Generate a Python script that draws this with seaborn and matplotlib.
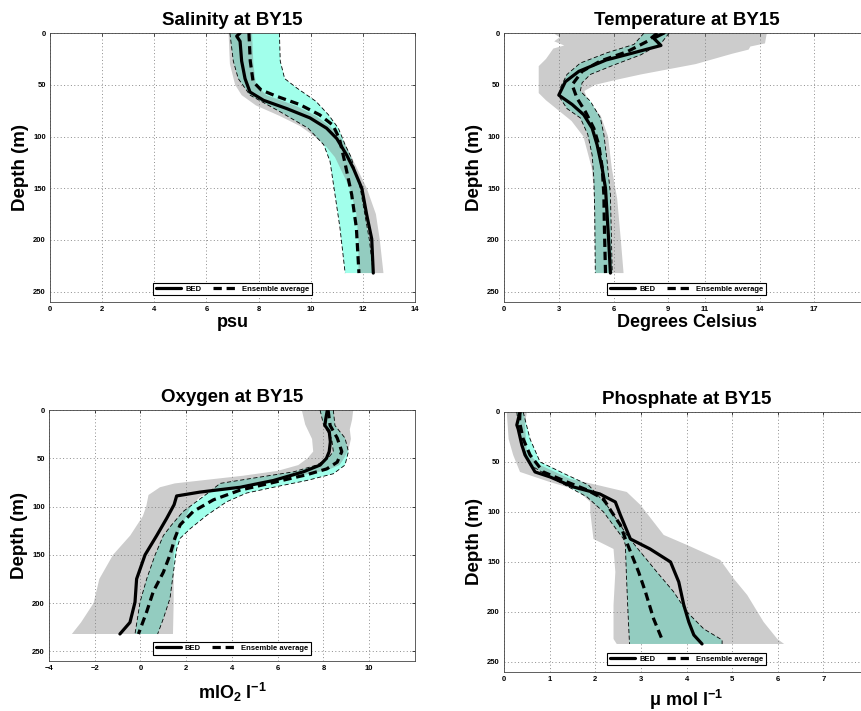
import numpy as np
import matplotlib
matplotlib.use("Agg")
import matplotlib.pyplot as plt
import seaborn as sns

# ---- values ----
# Salinity (psu)
sal_bed_d = [0, 3, 8, 27, 44, 57, 65, 73, 82, 92, 102, 118, 131, 150, 176, 199, 232]
sal_bed = [7.29, 7.16, 7.29, 7.35, 7.48, 7.67, 8.19, 9.08, 9.97, 10.61, 11.0, 11.38, 11.64, 11.96, 12.15, 12.34, 12.4]
sal_ens_d = [0, 27, 47, 55, 61, 69, 79, 89, 102, 124, 156, 188, 232]
sal_ens = [7.63, 7.68, 7.79, 8.1, 8.68, 9.57, 10.34, 10.85, 11.1, 11.3, 11.57, 11.75, 11.85]
sal_ens_lo_d = [0, 27, 44, 60, 76, 92, 108, 124, 156, 188, 232]
sal_ens_lo = [6.9, 7.03, 7.22, 7.67, 8.82, 9.9, 10.5, 10.74, 10.93, 11.12, 11.32]
sal_ens_hi_d = [0, 27, 44, 53, 66, 79, 92, 108, 120, 150, 200, 232]
sal_ens_hi = [8.8, 8.83, 9.0, 9.46, 10.2, 10.68, 11.06, 11.32, 11.55, 11.9, 12.25, 12.4]
sal_bed_lo_d = [0, 30, 50, 60, 70, 80, 90, 100, 110, 120, 150, 175, 200, 232]
sal_bed_lo = [6.85, 6.9, 7.1, 7.35, 7.9, 8.8, 9.6, 10.15, 10.6, 10.93, 11.5, 11.75, 11.83, 11.83]
sal_bed_hi_d = [0, 30, 50, 60, 70, 80, 90, 100, 110, 120, 150, 175, 200, 232]
sal_bed_hi = [7.75, 7.8, 7.9, 8.3, 9.4, 10.2, 10.74, 11.12, 11.38, 11.57, 12.15, 12.5, 12.65, 12.79]

# Temperature (degrees Celsius)
tmp_bed_d = [0, 5, 12, 20, 26, 37, 47, 60, 69, 79, 92, 108, 131, 150, 176, 202, 232]
tmp_bed = [8.77, 8.2, 8.6, 6.9, 5.6, 4.1, 3.36, 3.0, 3.73, 4.37, 4.83, 5.1, 5.38, 5.56, 5.65, 5.74, 5.83]
tmp_ens_d = [0, 8, 18, 27, 37, 50, 63, 76, 92, 108, 130, 156, 188, 232]
tmp_ens = [8.4, 7.85, 6.75, 5.28, 4.28, 3.73, 4.0, 4.46, 4.92, 5.19, 5.38, 5.47, 5.5, 5.56]
tmp_ens_lo_d = [0, 11, 19, 29, 40, 53, 63, 73, 82, 98, 118, 140, 172, 232]
tmp_ens_lo = [7.67, 7.12, 5.65, 4.18, 3.45, 3.08, 3.08, 3.45, 4.18, 4.59, 4.83, 4.92, 4.97, 5.0]
tmp_ens_hi_d = [0, 10, 21, 31, 40, 48, 56, 66, 82, 98, 124, 156, 232]
tmp_ens_hi = [9.05, 8.6, 7.5, 6.0, 4.73, 4.28, 4.18, 4.73, 5.28, 5.47, 5.65, 5.83, 5.93]
tmp_bed_lo_d = [0, 4, 8, 12, 15, 25, 32, 58, 65, 75, 85, 100, 130, 150, 232]
tmp_bed_lo = [2.7, 3.05, 2.75, 3.3, 2.7, 2.3, 1.9, 1.9, 2.3, 3.0, 3.7, 4.35, 4.8, 4.92, 5.0]
tmp_bed_hi_d = [0, 10, 13, 16, 20, 25, 30, 35, 40, 45, 50, 56, 65, 80, 100, 130, 160, 200, 232]
tmp_bed_hi = [14.4, 14.3, 13.5, 13.4, 12.5, 11.5, 10.5, 9.0, 7.5, 6.2, 5.0, 4.4, 4.6, 5.3, 5.7, 5.9, 6.2, 6.4, 6.55]

# Oxygen (ml O2 / l)
oxy_bed_d = [0, 9, 16, 22, 33, 43, 50, 57, 64, 73, 80, 85, 89, 98, 112, 130, 150, 175, 199, 220, 232]
oxy_bed = [8.17, 8.1, 8.06, 8.25, 8.3, 8.25, 8.13, 7.85, 7.12, 5.81, 4.35, 2.6, 1.58, 1.47, 1.15, 0.71, 0.2, -0.17, -0.24, -0.46, -0.9]
oxy_ens_d = [0, 16, 29, 43, 54, 61, 67, 75, 83, 93, 105, 119, 133, 150, 168, 188, 209, 232]
oxy_ens = [8.2, 8.29, 8.6, 8.8, 8.6, 8.14, 7.27, 5.81, 4.35, 3.19, 2.31, 1.73, 1.5, 1.29, 1.0, 0.56, 0.27, -0.09]
oxy_ens_lo_d = [0, 15, 30, 43, 50, 57, 64, 70, 76, 86, 93, 105, 119, 130, 150, 175, 199, 232]
oxy_ens_lo = [7.85, 8.0, 8.36, 8.43, 8.2, 7.7, 6.7, 5.08, 3.48, 2.95, 2.55, 1.87, 1.36, 1.0, 0.64, 0.27, -0.02, -0.24]
oxy_ens_hi_d = [0, 16, 29, 43, 57, 66, 73, 80, 86, 95, 109, 123, 133, 144, 168, 195, 216, 232]
oxy_ens_hi = [8.43, 8.5, 8.94, 9.09, 8.94, 8.43, 7.27, 5.81, 4.64, 3.77, 2.9, 2.17, 1.73, 1.58, 1.44, 1.29, 1.0, 0.75]
oxy_bed_lo_d = [0, 15, 30, 43, 50, 57, 63, 68, 72, 76, 80, 88, 100, 110, 130, 150, 175, 200, 220, 232]
oxy_bed_lo = [7.05, 7.2, 7.5, 7.55, 7.3, 6.9, 6.0, 4.5, 3.0, 1.5, 0.85, 0.35, 0.25, 0.1, -0.45, -1.2, -1.8, -2.05, -2.6, -3.0]
oxy_bed_hi_d = [0, 10, 20, 30, 40, 50, 57, 62, 67, 72, 77, 83, 90, 100, 115, 130, 150, 200, 232]
oxy_bed_hi = [9.3, 9.25, 9.15, 9.2, 9.1, 8.9, 8.7, 8.2, 7.2, 6.0, 4.6, 3.3, 2.6, 2.2, 1.9, 1.6, 1.45, 1.45, 1.42]

# Phosphate (umol / l)
pho_bed_d = [0, 13, 17, 33, 43, 60, 65, 75, 82, 90, 103, 127, 137, 150, 170, 193, 210, 223, 232]
pho_bed = [0.35, 0.28, 0.31, 0.39, 0.46, 0.68, 1.01, 1.52, 2.1, 2.44, 2.55, 2.77, 3.2, 3.65, 3.83, 3.94, 4.05, 4.16, 4.34]
pho_ens_d = [0, 10, 27, 43, 60, 70, 78, 87, 100, 113, 127, 143, 160, 180, 207, 227]
pho_ens = [0.35, 0.34, 0.42, 0.57, 0.86, 1.38, 1.82, 2.18, 2.36, 2.55, 2.66, 2.8, 2.95, 3.1, 3.28, 3.46]
pho_ens_lo_d = [0, 27, 53, 65, 85, 100, 127, 133, 160, 193, 232]
pho_ens_lo = [0.28, 0.35, 0.57, 1.01, 1.82, 2.18, 2.62, 2.66, 2.68, 2.71, 2.75]
pho_ens_hi_d = [0, 27, 50, 63, 73, 93, 113, 123, 140, 160, 180, 200, 217, 228, 232]
pho_ens_hi = [0.42, 0.57, 0.79, 1.38, 1.85, 2.25, 2.55, 2.69, 2.99, 3.35, 3.72, 4.01, 4.38, 4.78, 4.78]
pho_bed_lo_d = [0, 27, 43, 60, 70, 78, 90, 100, 127, 137, 160, 193, 227, 232]
pho_bed_lo = [0.06, 0.1, 0.2, 0.35, 1.0, 1.6, 1.89, 1.89, 1.96, 2.4, 2.44, 2.4, 2.4, 2.47]
pho_bed_hi_d = [0, 13, 40, 53, 67, 73, 80, 93, 123, 133, 148, 167, 183, 210, 227, 232]
pho_bed_hi = [0.5, 0.46, 0.5, 0.79, 1.45, 2.04, 2.69, 2.99, 3.5, 4.01, 4.74, 5.04, 5.33, 5.69, 5.99, 6.14]

depth_ticks = [0, 50, 100, 150, 200, 250]

sns.set_style("white")
plt.rcParams['font.family'] = ['Liberation Sans', 'DejaVu Sans']
plt.rcParams['font.weight'] = 'bold'
plt.rcParams['text.color'] = 'black'
plt.rcParams['axes.labelcolor'] = 'black'
plt.rcParams['xtick.color'] = 'black'
plt.rcParams['ytick.color'] = 'black'
plt.rcParams['mathtext.fontset'] = 'custom'
plt.rcParams['mathtext.rm'] = 'Liberation Sans:bold'
plt.rcParams['mathtext.bf'] = 'Liberation Sans:bold'
plt.rcParams['mathtext.default'] = 'bf'

CYAN = '#a1ffeb'
GREY = (0.5, 0.5, 0.5)


def band(ax, lo_d, lo, hi_d, hi, **kw):
    xs = np.r_[lo, hi[::-1]]
    ys = np.r_[lo_d, hi_d[::-1]]
    ax.fill(xs, ys, lw=0, **kw)


def panel(ax, title, xlabel, bed, ens, ens_lo, ens_hi, bed_lo, bed_hi,
          xlim, xticks, xlabelpad):
    band(ax, *ens_lo, *ens_hi, color=CYAN, zorder=1)
    band(ax, *bed_lo, *bed_hi, color=GREY, alpha=0.4, zorder=2)
    for d, v in (ens_lo, ens_hi):
        sns.lineplot(x=v, y=d, orient='y', estimator=None, color='k', lw=0.6,
                     linestyle=(0, (5, 3)), ax=ax, zorder=3)
    sns.lineplot(x=bed[1], y=bed[0], orient='y', estimator=None, color='k',
                 lw=2.3, label='BED', ax=ax, zorder=4)
    sns.lineplot(x=ens[1], y=ens[0], orient='y', estimator=None, color='k',
                 lw=2.3, linestyle=(0, (2.6, 1.5)), label='Ensemble average',
                 ax=ax, zorder=4)

    ax.set_xlim(*xlim)
    ax.set_ylim(260, 0)
    ax.set_xticks(xticks)
    ax.set_yticks(depth_ticks)
    ax.set_axisbelow(True)
    ax.grid(True, color='#8c8c8c', linestyle=(0, (1, 2.5)), lw=0.7)
    ax.tick_params(direction='in', length=2.5, width=0.5, labelsize=5.5,
                   pad=3, top=True, right=True)
    for s in ax.spines.values():
        s.set_color('#444444')
        s.set_linewidth(0.6)
    ax.set_title(title, fontsize=13.5, fontweight='bold', pad=6)
    ax.set_ylabel('Depth (m)', fontsize=13.5, fontweight='bold', labelpad=3)
    ax.set_xlabel(xlabel, fontsize=13, fontweight='bold', labelpad=xlabelpad)

    handles, labels = ax.get_legend_handles_labels()
    leg = ax.legend(handles, labels, ncol=2, loc='lower center',
                    bbox_to_anchor=(0.5, 0.025), borderaxespad=0,
                    fontsize=5.5, frameon=True, fancybox=False,
                    edgecolor='k', framealpha=1, handlelength=3.3,
                    handletextpad=0.5, columnspacing=1.5, borderpad=0.35)
    leg.get_frame().set_linewidth(0.8)


fig = plt.figure(figsize=(8.61, 7.11), dpi=100)
ax_sal = fig.add_axes([0.0581, 0.5752, 0.4239, 0.3783])
ax_tmp = fig.add_axes([0.5854, 0.5752, 0.4239, 0.3783])
ax_oxy = fig.add_axes([0.0569, 0.0703, 0.4251, 0.3530])
ax_pho = fig.add_axes([0.5854, 0.0549, 0.4239, 0.3657])

panel(ax_sal, 'Salinity at BY15', 'psu',
      (sal_bed_d, sal_bed), (sal_ens_d, sal_ens),
      (sal_ens_lo_d, sal_ens_lo), (sal_ens_hi_d, sal_ens_hi),
      (sal_bed_lo_d, sal_bed_lo), (sal_bed_hi_d, sal_bed_hi),
      (0, 14), [0, 2, 4, 6, 8, 10, 12, 14], 0.5)
panel(ax_tmp, 'Temperature at BY15', 'Degrees Celsius',
      (tmp_bed_d, tmp_bed), (tmp_ens_d, tmp_ens),
      (tmp_ens_lo_d, tmp_ens_lo), (tmp_ens_hi_d, tmp_ens_hi),
      (tmp_bed_lo_d, tmp_bed_lo), (tmp_bed_hi_d, tmp_bed_hi),
      (0, 20), [0, 3, 6, 9, 11, 14, 17], 0.5)
panel(ax_oxy, 'Oxygen at BY15', 'mlO$_2$ l$^{-1}$',
      (oxy_bed_d, oxy_bed), (oxy_ens_d, oxy_ens),
      (oxy_ens_lo_d, oxy_ens_lo), (oxy_ens_hi_d, oxy_ens_hi),
      (oxy_bed_lo_d, oxy_bed_lo), (oxy_bed_hi_d, oxy_bed_hi),
      (-4, 12), [-4, -2, 0, 2, 4, 6, 8, 10], 6)
panel(ax_pho, 'Phosphate at BY15', '\u03bc mol l$^{-1}$',
      (pho_bed_d, pho_bed), (pho_ens_d, pho_ens),
      (pho_ens_lo_d, pho_ens_lo), (pho_ens_hi_d, pho_ens_hi),
      (pho_bed_lo_d, pho_bed_lo), (pho_bed_hi_d, pho_bed_hi),
      (0, 8), [0, 1, 2, 3, 4, 5, 6, 7], 3.5)

fig.savefig('out.png', dpi=100)
